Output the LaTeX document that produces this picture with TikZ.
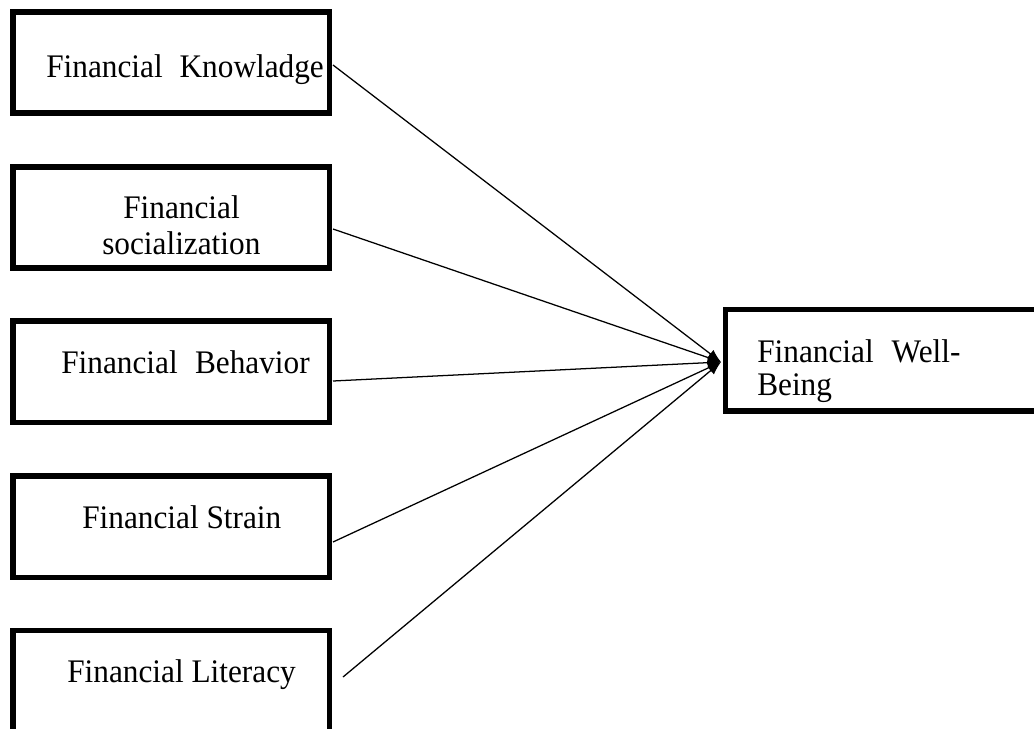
\documentclass[tikz,border=0pt]{standalone}
\usepackage{fontspec}
\setmainfont[FakeStretch=0.95]{Liberation Serif}
\usetikzlibrary{arrows.meta}
\begin{document}
\begin{tikzpicture}[x=0.75pt,y=-0.75pt,
  box/.style={draw=black,line width=4.2pt,rectangle,inner sep=0pt,
              minimum width=237.4pt,minimum height=75.9pt},
  label/.style={anchor=base west,inner sep=0pt,font=\fontsize{24.7pt}{28pt}\selectfont},
  link/.style={draw=black,line width=0.95pt,-{Latex[length=10pt,width=7.5pt]}}]
  \useasboundingbox (0,0) rectangle (1034,728);
  \clip (0,0) rectangle (1034,728);

  % input factors
  \node[box] (know) at (171.25,62.5)  {};
  \node[box] (soc)  at (171.25,217.5) {};
  \node[box] (beh)  at (171.25,371.75){};
  \node[box] (str)  at (171.25,526.75){};
  \node[box] (lit)  at (171.25,681)   {};

  % outcome
  \node[box,minimum width=247.5pt] (well) at (890.5,360.25) {};

  % box texts
  \node[label] (knowT) at (46,77)   {Financial\hspace{12.7pt}Knowladge};
  \node[label] (socT1) at (123,218) {Financial};
  \node[label] (socT2) at (102,254) {socialization};
  \node[label] (behT)  at (61,373)  {Financial\hspace{13pt}Behavior};
  \node[label] (strT)  at (82,528)  {Financial Strain};
  \node[label] (litT)  at (67,682)  {Financial Literacy};
  \node[label] (wellT1) at (757,362) {Financial\hspace{13.5pt}Well-};
  \node[label] (wellT2) at (757,395) {Being};

  % connectors
  \coordinate (hub) at (721,362);
  \coordinate (knowO) at (333,65);
  \coordinate (socO)  at (333,229);
  \coordinate (behO)  at (333,381);
  \coordinate (strO)  at (333,542);
  \coordinate (litO)  at (343,677);
  \draw[link] (knowO) -- (hub);
  \draw[link] (socO)  -- (hub);
  \draw[link] (behO)  -- (hub);
  \draw[link] (strO)  -- (hub);
  \draw[link] (litO)  -- (hub);
\end{tikzpicture}
\end{document}
